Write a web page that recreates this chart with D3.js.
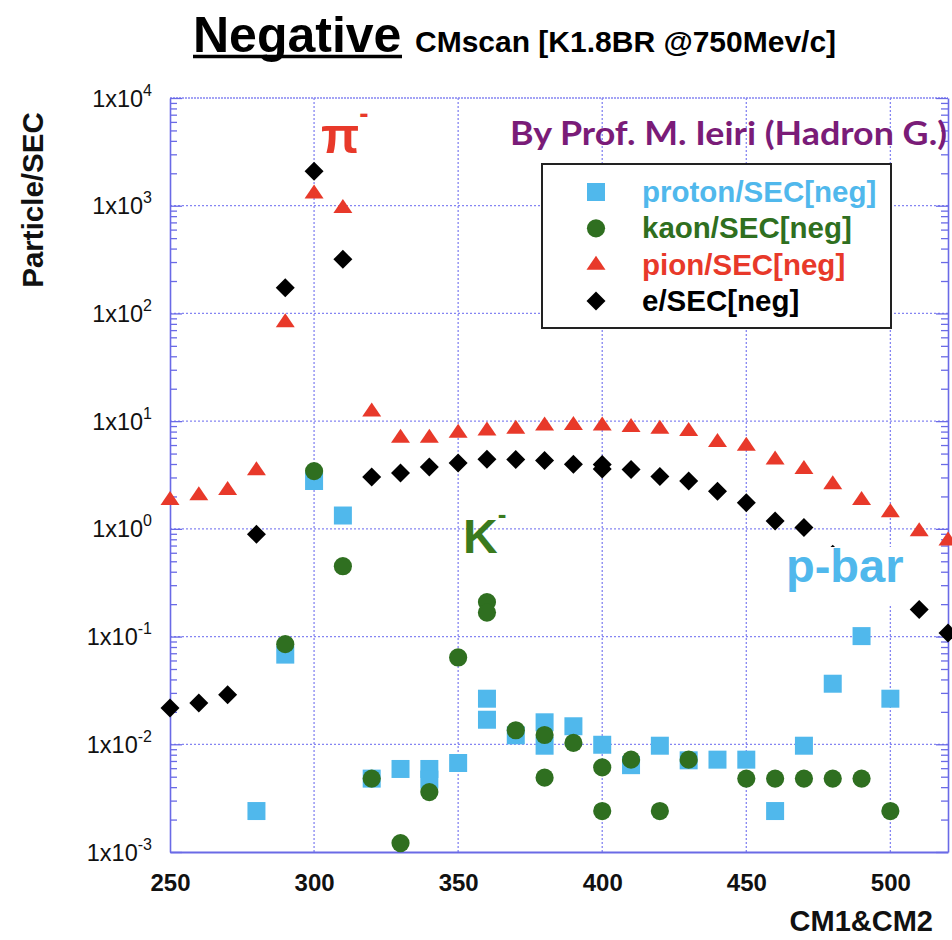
<!DOCTYPE html>
<html>
<head>
<meta charset="utf-8">
<script src="https://cdn.jsdelivr.net/npm/d3@7"></script>
<style>
  body { margin: 0; background: #fff; }
  svg { display: block; }
</style>
</head>
<body>
<div class="container"></div>
<script>
// tick values
const xTicks = [250, 300, 350, 400, 450, 500]
const yDecades = [-3, -2, -1, 0, 1, 2, 3, 4]

// [CM1&CM2 setting, particles per second]
const proton = [[280, 0.0024], [290, 0.068], [300, 2.78], [310, 1.33], [320, 0.0048], [330, 0.0059],
  [340, 0.0059], [340, 0.0047], [350, 0.0067], [360, 0.0265], [360, 0.0169], [370, 0.0121],
  [380, 0.016], [380, 0.0097], [390, 0.0147], [400, 0.0099], [410, 0.0064], [420, 0.0097],
  [430, 0.0071], [440, 0.0072], [450, 0.0072], [460, 0.0024], [470, 0.0097], [480, 0.0365],
  [490, 0.101], [500, 0.0265]]

const kaon = [[290, 0.085], [300, 3.44], [310, 0.45], [320, 0.0048], [330, 0.00121], [340, 0.0036],
  [350, 0.064], [360, 0.209], [360, 0.167], [370, 0.0135], [380, 0.0122], [380, 0.0049],
  [390, 0.0103], [400, 0.0061], [400, 0.0024], [410, 0.0072], [420, 0.0024], [430, 0.0072],
  [450, 0.0048], [460, 0.0048], [470, 0.0048], [480, 0.0048], [490, 0.0048], [500, 0.0024]]

const pion = [[250, 1.85], [260, 2.05], [270, 2.3], [280, 3.5], [290, 83], [300, 1300], [310, 950],
  [320, 12.3], [330, 7.0], [340, 7.0], [350, 7.8], [360, 8.2], [370, 8.5], [380, 9.1], [390, 9.2],
  [400, 9.1], [410, 8.8], [420, 8.5], [430, 8.1], [440, 6.4], [450, 5.9], [460, 4.4], [470, 3.6],
  [480, 2.6], [490, 1.85], [500, 1.43], [510, 0.95], [520, 0.78]]

const electron = [[250, 0.0217], [260, 0.0242], [270, 0.0288], [280, 0.89], [290, 173], [300, 2090],
  [310, 318], [320, 3.03], [330, 3.3], [340, 3.75], [350, 4.08], [360, 4.42], [370, 4.4], [380, 4.3],
  [390, 3.98], [400, 3.95], [400, 3.6], [410, 3.55], [420, 3.07], [430, 2.78], [440, 2.23],
  [450, 1.75], [460, 1.18], [470, 1.03], [480, 0.58], [510, 0.178], [520, 0.108]]

const legendLabels = ['proton/SEC[neg]', 'kaon/SEC[neg]', 'pion/SEC[neg]', 'e/SEC[neg]']

const w = 952
const h = 940
const font = '"Liberation Sans", Arial, sans-serif'
const axisBlue = '#6a6ae6'
const gridBlue = '#8585f2'

const triangle = {
  draw(ctx) {
    ctx.moveTo(0, -9)
    ctx.lineTo(9.5, 5)
    ctx.lineTo(-9.5, 5)
    ctx.closePath()
  }
}
const diamond = {
  draw(ctx) {
    ctx.moveTo(0, -9.5)
    ctx.lineTo(9.5, 0)
    ctx.lineTo(0, 9.5)
    ctx.lineTo(-9.5, 0)
    ctx.closePath()
  }
}

const series = [
  { data: proton, symbol: d3.symbol(d3.symbolSquare, 324), color: '#50b8ec' },
  { data: kaon, symbol: d3.symbol(d3.symbolCircle, 260), color: '#2f6f20' },
  { data: pion, symbol: d3.symbol(triangle), color: '#e8392a' },
  { data: electron, symbol: d3.symbol(diamond), color: '#000' }
]

const svg = d3.select('.container')
  .append('svg')
  .attr('width', w)
  .attr('height', h)
  .attr('font-family', font)

const x = d3.scaleLinear().domain([250, 520]).range([170, 948])
const y = d3.scaleLog().domain([1e-3, 1e4]).range([852, 98])

// grid
svg.append('g')
  .selectAll('line')
  .data(xTicks.slice(1))
  .join('line')
  .attr('x1', d => x(d)).attr('x2', d => x(d))
  .attr('y1', y(1e4)).attr('y2', y(1e-3))
  .attr('stroke', gridBlue)
  .attr('stroke-width', 1.3)
  .attr('stroke-dasharray', '2,2')

svg.append('g')
  .selectAll('line')
  .data(yDecades.slice(1, -1))
  .join('line')
  .attr('x1', x(250)).attr('x2', x(520))
  .attr('y1', d => y(Math.pow(10, d))).attr('y2', d => y(Math.pow(10, d)))
  .attr('stroke', gridBlue)
  .attr('stroke-width', 1.3)
  .attr('stroke-dasharray', '2,2')

// top border
svg.append('line')
  .attr('x1', x(250)).attr('x2', x(520))
  .attr('y1', y(1e4)).attr('y2', y(1e4))
  .attr('stroke', gridBlue)
  .attr('stroke-width', 1.6)
  .attr('stroke-dasharray', '2,1')

// log ticks on both sides
const logTicks = []
yDecades.forEach(d => {
  if (d === 4) { logTicks.push(1e4); return }
  for (let k = 1; k <= 9; k++) logTicks.push(k * Math.pow(10, d))
})
const isMajor = v => Math.abs(Math.log10(v) - Math.round(Math.log10(v))) < 1e-9

const leftAxis = svg.append('g')
  .attr('transform', `translate(${x(250)},0)`)
  .call(d3.axisRight(y).tickValues(logTicks).tickFormat('').tickSize(7).tickSizeOuter(0))
const rightAxis = svg.append('g')
  .attr('transform', `translate(${x(520)},0)`)
  .call(d3.axisLeft(y).tickValues(logTicks).tickFormat('').tickSize(7).tickSizeOuter(0))

;[leftAxis, rightAxis].forEach((g, i) => {
  g.select('.domain').attr('stroke', axisBlue).attr('stroke-width', 1.6)
  g.selectAll('.tick line')
    .attr('stroke', axisBlue)
    .attr('stroke-width', 1.3)
    .attr('x2', d => (isMajor(d) ? 12 : 7) * (i === 0 ? 1 : -1))
})

const bottomAxis = svg.append('g')
  .attr('transform', `translate(0,${y(1e-3)})`)
  .call(d3.axisBottom(x).tickValues(xTicks).tickSize(0).tickPadding(22).tickSizeOuter(0))
bottomAxis.select('.domain').attr('stroke', axisBlue).attr('stroke-width', 1.8)
bottomAxis.selectAll('text')
  .attr('font-family', font)
  .attr('font-size', 24)
  .attr('font-weight', 'bold')
  .attr('fill', '#111')

// y tick labels
const yLab = svg.append('g')
  .selectAll('text')
  .data(yDecades)
  .join('text')
  .attr('x', 152)
  .attr('y', d => y(Math.pow(10, d)) + 8.5)
  .attr('text-anchor', 'end')
  .attr('font-size', 23.5)
  .attr('fill', '#111')
yLab.append('tspan').text('1x10')
yLab.append('tspan').text(d => d).attr('dy', -11).attr('font-size', 16)

// axis titles
svg.append('text')
  .text('Particle/SEC')
  .attr('transform', 'translate(43,200) rotate(-90)')
  .attr('text-anchor', 'middle')
  .attr('font-size', 29.5)
  .attr('font-weight', 'bold')
  .attr('fill', '#111')

svg.append('text')
  .text('CM1&CM2')
  .attr('x', 933)
  .attr('y', 931)
  .attr('text-anchor', 'end')
  .attr('font-size', 29)
  .attr('font-weight', 'bold')
  .attr('fill', '#111')

// title
svg.append('text')
  .text('Negative')
  .attr('x', 193)
  .attr('y', 52)
  .attr('font-size', 50)
  .attr('font-weight', 'bold')
svg.append('line')
  .attr('x1', 193).attr('x2', 402)
  .attr('y1', 56.5).attr('y2', 56.5)
  .attr('stroke', '#000')
  .attr('stroke-width', 3.5)
svg.append('text')
  .text('CMscan [K1.8BR @750Mev/c]')
  .attr('x', 415)
  .attr('y', 52)
  .attr('font-size', 30)
  .attr('font-weight', 'bold')

// data points
series.forEach(s => {
  svg.append('g')
    .selectAll('path')
    .data(s.data)
    .join('path')
    .attr('d', s.symbol)
    .attr('transform', d => `translate(${x(d[0])},${y(d[1])})`)
    .attr('fill', s.color)
})

// p-bar label box
svg.append('rect')
  .attr('x', 778).attr('y', 547)
  .attr('width', 134).attr('height', 58)
  .attr('fill', '#fff')
svg.append('text')
  .text('p-bar')
  .attr('x', 786)
  .attr('y', 582)
  .attr('font-size', 47)
  .attr('font-weight', 'bold')
  .attr('fill', '#50b8ec')

// particle labels
const piLab = svg.append('text')
  .attr('x', 321)
  .attr('y', 153)
  .attr('font-size', 50)
  .attr('font-weight', 'bold')
  .attr('fill', '#e8392a')
piLab.append('tspan').text('π')
piLab.append('tspan').text('-').attr('dy', -30).attr('font-size', 28)

const kLab = svg.append('text')
  .attr('x', 463)
  .attr('y', 553)
  .attr('font-size', 48)
  .attr('font-weight', 'bold')
  .attr('fill', '#3a7a1e')
kLab.append('tspan').text('K')
kLab.append('tspan').text('-').attr('dy', -30).attr('font-size', 26)

svg.append('text')
  .text('By Prof. M. Ieiri (Hadron G.)')
  .attr('x', 510)
  .attr('y', 145)
  .attr('font-family', 'Lato, "Open Sans", sans-serif')
  .attr('font-size', 33)
  .attr('font-weight', 'bold')
  .attr('fill', '#7a1c78')
  .attr('textLength', 437)
  .attr('lengthAdjust', 'spacingAndGlyphs')

// legend
const legend = svg.append('g')
legend.append('rect')
  .attr('x', 542).attr('y', 164)
  .attr('width', 349).attr('height', 164)
  .attr('fill', '#fff')
  .attr('stroke', '#222')
  .attr('stroke-width', 2)

const rowY = d3.scalePoint().domain(legendLabels).range([192, 301])
const item = legend.selectAll('g.item')
  .data(series.map((s, i) => ({ ...s, label: legendLabels[i] })))
  .join('g')
  .attr('class', 'item')
  .attr('transform', d => `translate(0,${rowY(d.label)})`)
item.append('path')
  .attr('d', d => d.symbol())
  .attr('transform', 'translate(596,0)')
  .attr('fill', d => d.color)
item.append('text')
  .text(d => d.label)
  .attr('x', 642)
  .attr('y', 10)
  .attr('font-size', 29.5)
  .attr('font-weight', 'bold')
  .attr('fill', d => d.color)
</script>
</body>
</html>
